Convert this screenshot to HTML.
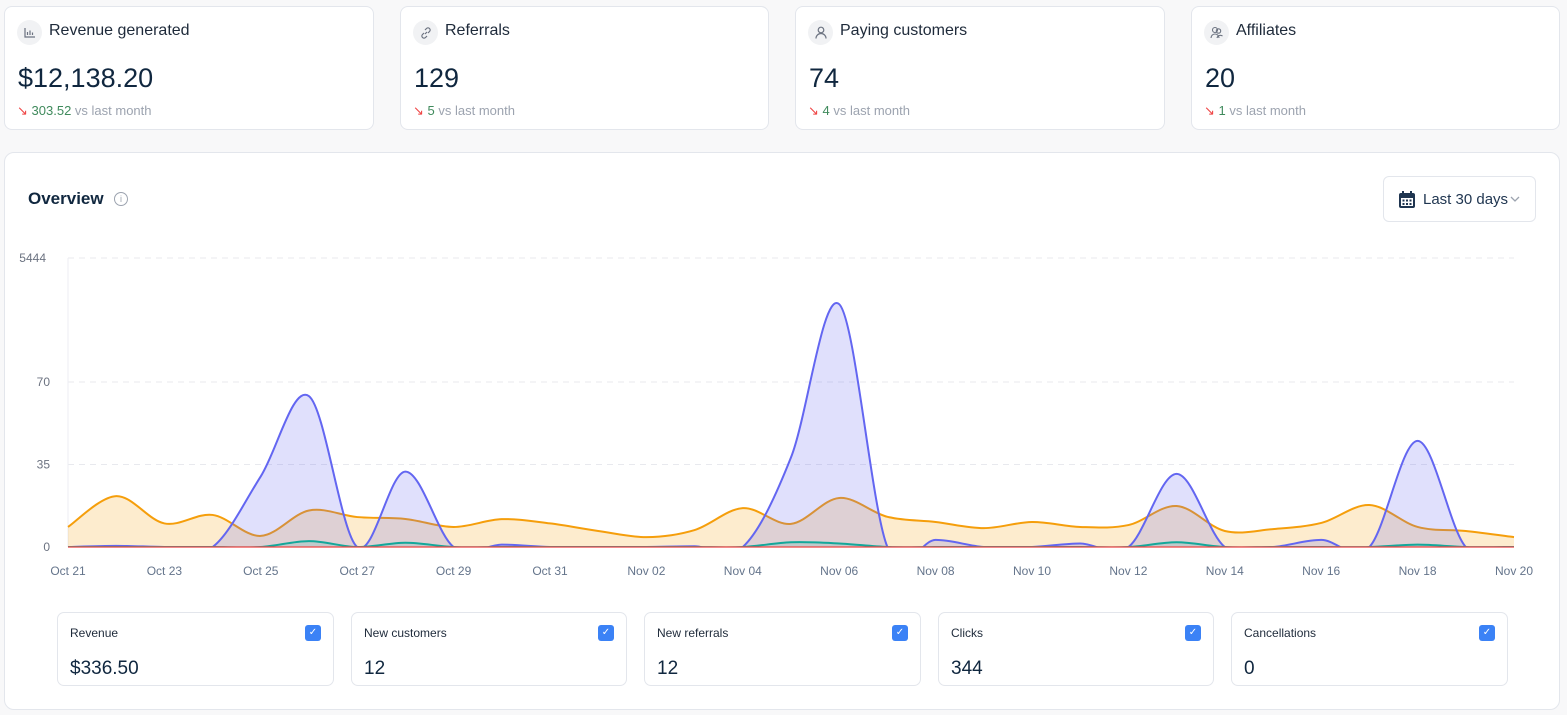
<!DOCTYPE html>
<html><head><meta charset="utf-8">
<style>
*{box-sizing:border-box;margin:0;padding:0}
body{width:1567px;height:715px;background:#f8f8f9;font-family:"Liberation Sans",sans-serif;position:relative;overflow:hidden;color:#0f2a44}
.card{position:absolute;top:6px;height:124px;background:#fff;border:1px solid #e3e6ec;border-radius:8px}
.ic{position:absolute;left:12px;top:13px;width:25px;height:25px;border-radius:50%;background:#f1f2f4;display:flex;align-items:center;justify-content:center}
.ct{position:absolute;left:44px;top:15px;font-size:16px;color:#1e2a3a}
.cv{position:absolute;left:13px;top:56px;font-size:27px;color:#10273f}
.cd{position:absolute;left:12px;top:96px;font-size:13px;color:#9ca3af}
.cd b{font-weight:normal;color:#3f8a5c}
.panel{position:absolute;left:4px;top:152px;width:1556px;height:558px;background:#fff;border:1px solid #e3e6ec;border-radius:10px}
.mc{position:absolute;top:612px;height:74px;background:#fff;border:1px solid #e3e6ec;border-radius:7px}
.ml{position:absolute;left:12px;top:13px;font-size:12px;color:#1e2a3a}
.mv{position:absolute;left:12px;top:45px;font-size:19px;color:#10273f}
.cb{position:absolute;right:12px;top:12px;width:16px;height:16px;background:#3b82f6;border-radius:3px;color:#fff;font-size:10px;text-align:center;line-height:16px}
</style></head><body>
<div class="card" style="left:4px;width:370px">
 <div class="ic"><svg width="12" height="11"><path d="M1 1v9h10M3.5 8V5M6 8V3.5M8.5 8V5.5" stroke="#6b7280" stroke-width="1.2" fill="none"/></svg></div>
 <div class="ct">Revenue generated</div>
 <div class="cv">$12,138.20</div>
 <div class="cd"><span style="color:#ef4444">↘</span> <b>303.52</b> vs last month</div>
</div>
<div class="card" style="left:400px;width:369px">
 <div class="ic"><svg width="12" height="12"><path d="M5 7l2-2M4 6L2.5 7.5a2 2 0 003 3L7 9M8 6l1.5-1.5a2 2 0 00-3-3L5 3" stroke="#6b7280" stroke-width="1.2" fill="none"/></svg></div>
 <div class="ct">Referrals</div>
 <div class="cv">129</div>
 <div class="cd"><span style="color:#ef4444">↘</span> <b>5</b> vs last month</div>
</div>
<div class="card" style="left:795px;width:370px">
 <div class="ic"><svg width="12" height="13"><circle cx="6" cy="4" r="2.8" stroke="#6b7280" stroke-width="1.2" fill="none"/><path d="M1 12.5a5 5 0 0110 0" stroke="#6b7280" stroke-width="1.2" fill="none"/></svg></div>
 <div class="ct">Paying customers</div>
 <div class="cv">74</div>
 <div class="cd"><span style="color:#ef4444">↘</span> <b>4</b> vs last month</div>
</div>
<div class="card" style="left:1191px;width:369px">
 <div class="ic"><svg width="13" height="13"><circle cx="5" cy="4" r="2.5" stroke="#6b7280" stroke-width="1.1" fill="none"/><circle cx="8.5" cy="5" r="2.2" stroke="#6b7280" stroke-width="1.1" fill="none"/><path d="M1 12a4 4 0 018 0M7 12a3.5 3.5 0 015.5-2" stroke="#6b7280" stroke-width="1.1" fill="none"/></svg></div>
 <div class="ct">Affiliates</div>
 <div class="cv">20</div>
 <div class="cd"><span style="color:#ef4444">↘</span> <b>1</b> vs last month</div>
</div>

<div class="panel"></div>
<div style="position:absolute;left:28px;top:189px;font-size:17px;font-weight:bold;color:#10273f">Overview</div>
<div style="position:absolute;left:114px;top:192px;width:14px;height:14px;border:1.3px solid #9ca3af;border-radius:50%;font-size:9px;color:#9ca3af;text-align:center;line-height:12px">i</div>
<div style="position:absolute;left:1383px;top:176px;width:153px;height:46px;border:1px solid #e3e6ec;border-radius:6px;background:#fff">
 <svg style="position:absolute;left:14px;top:13px" width="18" height="19"><rect x="1" y="3" width="16" height="15" rx="2" fill="#1f3550"/><rect x="3" y="8" width="12" height="8" fill="#fff"/><rect x="4" y="1" width="2" height="4" fill="#1f3550"/><rect x="12" y="1" width="2" height="4" fill="#1f3550"/><g fill="#1f3550"><rect x="4.5" y="9.5" width="2" height="2"/><rect x="8" y="9.5" width="2" height="2"/><rect x="11.5" y="9.5" width="2" height="2"/><rect x="4.5" y="13" width="2" height="2"/><rect x="8" y="13" width="2" height="2"/><rect x="11.5" y="13" width="2" height="2"/></g></svg>
 <span style="position:absolute;left:39px;top:14px;font-size:15px;color:#1f3550">Last 30 days</span>
 <svg style="position:absolute;left:126px;top:19px" width="10" height="7"><path d="M1 1l4 4 4-4" stroke="#9ca3af" stroke-width="1.3" fill="none"/></svg>
</div>

<svg id="chart" width="1567" height="600" style="position:absolute;left:0;top:0"><defs><clipPath id="plotclip"><rect x="60" y="200" width="1470" height="347"/></clipPath></defs></svg>

<div class="mc" style="left:57px;width:277px"><div class="ml">Revenue</div><div class="cb">✓</div><div class="mv">$336.50</div></div>
<div class="mc" style="left:351px;width:276px"><div class="ml">New customers</div><div class="cb">✓</div><div class="mv">12</div></div>
<div class="mc" style="left:644px;width:277px"><div class="ml">New referrals</div><div class="cb">✓</div><div class="mv">12</div></div>
<div class="mc" style="left:938px;width:276px"><div class="ml">Clicks</div><div class="cb">✓</div><div class="mv">344</div></div>
<div class="mc" style="left:1231px;width:277px"><div class="ml">Cancellations</div><div class="cb">✓</div><div class="mv">0</div></div>

<script>
const xLabels=["Oct 21","Oct 23","Oct 25","Oct 27","Oct 29","Oct 31","Nov 02","Nov 04","Nov 06","Nov 08","Nov 10","Nov 12","Nov 14","Nov 16","Nov 18","Nov 20"];
const yTicks=[0,35,70,122.6];
const yTickLabels=["0","35","70","5444"];
const purple=[0,0.5,0,0,30,64,0,32,0,1,0,0,0,0.3,0,38,103,0,3,0,0,1.5,0,31,0,0,3,0,45,0,0];
const orange=[8.5,21.6,10,13.6,4.7,15.5,12.7,11.9,8.5,11.8,10,6.8,4.2,7.2,16.5,9.8,20.8,12.8,10.6,8,10.6,8.5,9.3,17.4,6.8,7.6,10.2,17.8,8.5,6.8,4.2];
const teal=[0,0,0,0,0,2.5,0,1.8,0,0,0,0,0,0,0,2,1.5,0,0,0,0,0,0,2,0,0,0,0,1,0,0];
const cancellations=new Array(31).fill(0);

const X0=68,X1=1514,Y0=547,YMAX_PX=258,YMAX=122.6;
const sx=i=>X0+i*(X1-X0)/30;
const sy=v=>Y0-v*(Y0-YMAX_PX)/YMAX;
const svg=document.getElementById('chart');
const NS='http://www.w3.org/2000/svg';
function mk(t,a){const e=document.createElementNS(NS,t);for(const k in a)e.setAttribute(k,a[k]);svg.appendChild(e);return e;}
function smooth(vals){
 const n=vals.length,xs=vals.map((_,i)=>sx(i)),ys=vals.map(sy);
 let p=`M${xs[0]},${ys[0]}`;
 for(let i=0;i<n-1;i++){
  const x0=xs[Math.max(i-1,0)],y0=ys[Math.max(i-1,0)],x3=xs[Math.min(i+2,n-1)],y3=ys[Math.min(i+2,n-1)];
  const c1x=xs[i]+(xs[i+1]-x0)/6,c1y=ys[i]+(ys[i+1]-y0)/6;
  const c2x=xs[i+1]-(x3-xs[i])/6,c2y=ys[i+1]-(y3-ys[i])/6;
  p+=` C${c1x},${c1y} ${c2x},${c2y} ${xs[i+1]},${ys[i+1]}`;
 }
 return p;
}
yTicks.forEach((t,i)=>{
 if(i>0){const g=mk('line',{x1:X0,x2:X1,y1:sy(t),y2:sy(t),stroke:'#e8e9ee','stroke-dasharray':'6 5'});
 
 }
 const l=mk('text',{x:i==3?46:50,y:sy(t)+4,'text-anchor':'end','font-size':12,fill:'#6b7280','font-family':'Liberation Sans'});
 l.textContent=yTickLabels[i];
 
 
});
const ax=mk('line',{x1:X0,x2:X0,y1:YMAX_PX,y2:Y0,stroke:'#eceef3'});


xLabels.forEach((t,i)=>{
 const l=mk('text',{x:sx(i*2),y:575,'text-anchor':'middle','font-size':12,fill:'#64748b','font-family':'Liberation Sans'});
 l.textContent=t;
 
 
});
const series=[[orange,'#f59e0b','rgba(245,158,11,0.2)','referrals-series'],[purple,'#6366f1','rgba(99,102,241,0.2)','clicks-series'],[teal,'#14a79a','rgba(20,167,154,0.15)','customers-series']];
series.forEach(([v,c,f,n])=>{
 const p=smooth(v);
 const a=mk('path',{d:p+` L${sx(30)},${Y0} L${sx(0)},${Y0} Z`,fill:f,'clip-path':'url(#plotclip)'});
 
 
 const l=mk('path',{d:p,fill:'none',stroke:c,'stroke-width':2,'clip-path':'url(#plotclip)'});
 
 
});
const cl=mk('path',{d:smooth(cancellations),fill:'none',stroke:'#ef4444','stroke-width':1.3});


</script>
</body></html>
